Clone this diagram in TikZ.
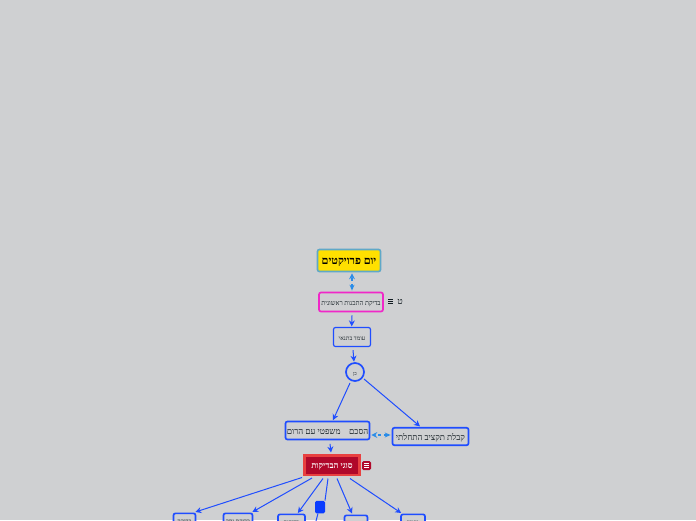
\documentclass[tikz,border=0pt]{standalone}
\usepackage{fontspec}
\usetikzlibrary{arrows.meta}
\setmainfont{Liberation Serif}
\TeXXeTstate=1
\definecolor{bg}{HTML}{CFD0D2}
\definecolor{bl}{HTML}{1F4DFF}
\definecolor{solidbl}{HTML}{0A3CFF}
\definecolor{dashc}{HTML}{2A8CE8}
\definecolor{yomb}{HTML}{5FA8C8}
\definecolor{yomf}{HTML}{FFE000}
\definecolor{pinkb}{HTML}{F028C8}
\definecolor{redb}{HTML}{E84040}
\definecolor{redf}{HTML}{B0082A}
\definecolor{ink}{HTML}{101A20}
\newcommand{\heb}[1]{\beginR #1\endR}
\tikzset{
  x=1pt,y=-1pt,
  box/.style={draw=bl,rounded corners=2pt,line width=1.700pt,fill=bg,inner sep=0pt,text=ink,text height=.7em,text depth=0pt},
  link/.style={draw=bl,line width=1pt,-{Stealth[length=6pt,width=6pt]}},
  dashlink/.style={draw=dashc,line width=1.100pt,dash pattern=on 3pt off 3pt,{Stealth[length=6pt,width=5pt,open,sep=0pt]}-{Stealth[length=6pt,width=6pt]}},
  iconline/.style={line width=.7pt}
}
\begin{document}
\begin{tikzpicture}
\useasboundingbox (0,0) rectangle (696,520);
\clip (0,0) rectangle (696,520);
\fill[bg] (0,0) rectangle (696,520);
\node[box,draw=yomb,fill=yomf,minimum width=63pt,minimum height=22pt,font=\fontsize{11}{12}\selectfont\bfseries,text=black] (yom) at (349,260.500) {\heb{יום פרויקטים}};
\node[box,draw=pinkb,minimum width=64pt,minimum height=19pt,font=\fontsize{6.600}{8}\selectfont] (bdika) at (351,302) {\heb{בדיקת התכנות ראשונית}};
\node[box,minimum width=37pt,minimum height=19pt,line width=1.200pt,font=\fontsize{6}{7}\selectfont] (omed) at (352,337) {\heb{עומד בתנאי}};
\node[box,circle,minimum size=18pt,font=\fontsize{5}{6}\selectfont] (ken) at (355,372) {\heb{כן}};
\node[box,minimum width=84pt,minimum height=18pt,font=\fontsize{8.500}{10}\selectfont] (heskem) at (327.500,430.500) {\heb{הסכם\ \ \ \ משפטי עם הרום}};
\node[box,minimum width=76pt,minimum height=17.500pt,font=\fontsize{8.500}{10}\selectfont] (taktziv) at (430.500,436.500) {\heb{קבלת תקציב התחלתי}};
\node[box,draw=redb,fill=redf,rounded corners=0pt,line width=2.500pt,text=white,minimum width=55pt,minimum height=19.500pt,font=\fontsize{8.500}{9}\selectfont\bfseries] (sugei) at (332,465) {\heb{סוגי הבדיקות}};
\node[fill=redf,rounded corners=1.500pt,minimum width=9pt,minimum height=9pt,inner sep=0pt] (menu) at (366.500,465.500) {};
\foreach \dy in {-2,0,2}{\draw[white,iconline] ([shift={(-2.500,\dy)}]menu.center) -- ([shift={(2.500,\dy)}]menu.center);}
\node[minimum width=5pt,minimum height=5pt,inner sep=0pt] (menub) at (390.500,301.500) {};
\foreach \dy in {-2,0,2}{\draw[ink,iconline] ([shift={(-2.500,\dy)}]menub.center) -- ([shift={(2.500,\dy)}]menub.center);}
\node[text=ink,font=\fontsize{9}{9}\selectfont,inner sep=0pt] (tet) at (400,302) {\heb{ט}};
\node[box,minimum width=22pt,minimum height=14pt,font=\fontsize{6}{6}\selectfont,anchor=north] (a) at (184.500,512.500) {\heb{בדיקה}};
\node[box,minimum width=29pt,minimum height=14pt,font=\fontsize{6}{6}\selectfont,anchor=north] (b) at (238,512.500) {\heb{בדיקת יתר}};
\node[box,minimum width=27pt,minimum height=14pt,font=\fontsize{6}{6}\selectfont,anchor=north] (c) at (291.500,513.500) {\heb{בדיקות}};
\node[fill=solidbl,rounded corners=1.500pt,minimum width=10pt,minimum height=12.500pt,inner sep=0pt] (d) at (320,507) {};
\coordinate (e) at (316,521);
\node[box,minimum width=23pt,minimum height=14pt,font=\fontsize{6}{6}\selectfont,anchor=north] (f) at (356,514.500) {\heb{שוק}};
\node[box,minimum width=24pt,minimum height=14pt,font=\fontsize{6}{6}\selectfont,anchor=north] (g) at (413,513.500) {\heb{מימון}};
\draw[dashlink] ([shift={(1,-1)}]bdika.north) -- ([shift={(3,1)}]yom.south);
\draw[link] ([shift={(1,3)}]bdika.south) -- ([shift={(-.3,-.500)}]omed.north);
\draw[link] ([shift={(1,3)}]omed.south) -- ([shift={(-1,-.500)}]ken.north);
\draw[link] ([shift={(-5,11)}]ken.center) -- ([shift={(5.500,-.500)}]heskem.north);
\draw[link] ([shift={(9,7)}]ken.center) -- ([shift={(-10.500,-.500)}]taktziv.north);
\draw[dashlink] ([shift={(-1,-1.500)}]taktziv.west) -- ([shift={(1,4.500)}]heskem.east);
\draw[link] ([shift={(2.500,3.500)}]heskem.south) -- ([shift={(-1,-1.500)}]sugei.north);
\draw[link] ([shift={(-30,1.500)}]sugei.south) -- ([shift={(-1,-.500)}]a.north east);
\draw[link] ([shift={(-20,2)}]sugei.south) -- ([shift={(-1,-.500)}]b.north east);
\draw[link] ([shift={(-9,2.500)}]sugei.south) -- ([shift={(-8,-.500)}]c.north east);
\draw[link,-] ([shift={(-4,2.500)}]sugei.south) -- ([shift={(5,0)}]d.north);
\draw[link,-] ([shift={(-2,0)}]d.south) -- (e);
\draw[link] ([shift={(5,2.500)}]sugei.south) -- ([shift={(-4,-1)}]f.north);
\draw[link] ([shift={(18,2.500)}]sugei.south) -- ([shift={(1,-.500)}]g.north west);
\end{tikzpicture}
\end{document}
